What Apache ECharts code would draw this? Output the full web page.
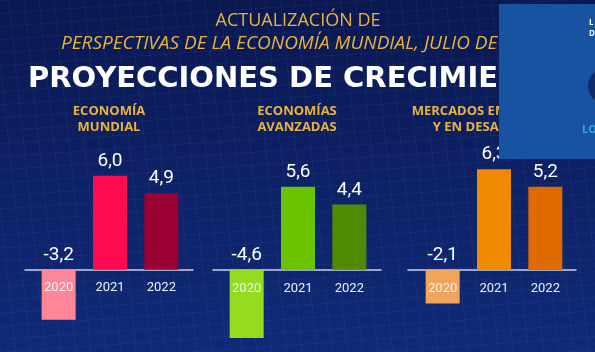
<!DOCTYPE html>
<html>
<head>
<meta charset="utf-8">
<script src="https://cdn.jsdelivr.net/npm/echarts@6/dist/echarts.min.js"></script>
<style>
  html, body { margin: 0; padding: 0; }
  body {
    width: 595px; height: 352px; overflow: hidden;
    background:
      repeating-linear-gradient(84deg, rgba(80,120,220,0.09) 0 1px, transparent 1px 15px),
      repeating-linear-gradient(176deg, rgba(80,120,220,0.09) 0 1px, transparent 1px 13px),
      linear-gradient(180deg, #0a1850 0%, #0d2063 45%, #112a78 100%);
  }
  #main { width: 595px; height: 352px; }
</style>
</head>
<body>
<div id="main"></div>
<script>
// datos (FMI, julio 2021)
const categories = ['2020', '2021', '2022']
const mundial = [-3.2, 6.0, 4.9]
const avanzadas = [-4.6, 5.6, 4.4]
const emergentes = [-2.1, 6.3, 5.2]
const panelTitles = ['ECONOMÍA\nMUNDIAL', 'ECONOMÍAS\nAVANZADAS', 'MERCADOS EMERGENTES\nY EN DESARROLLO']
const panelData = [mundial, avanzadas, emergentes]
const panelColors = [
  ['#ff8599', '#ff0a50', '#9b0032'],
  ['#95dc20', '#6cc400', '#4f8b00'],
  ['#f0a55c', '#f08a00', '#df6a00']
]

// layout of each panel (px)
const panels = [
  { barLeft: 33, lineLeft: 25, top: 160, height: 188 },
  { barLeft: 221, lineLeft: 213, top: 166, height: 178 },
  { barLeft: 417, lineLeft: 408, top: 158, height: 192 }
]
const bandWidth = 154
const lineWidth = 168
const gold = '#e9b43c'

const fmt = v => v.toFixed(1).replace('.', ',')

const grid = []
const xAxis = []
const yAxis = []
const series = []
const addGrid = g => {
  grid.push(Object.assign({ outerBoundsMode: 'none', containLabel: false }, g))
  return grid.length - 1
}

panels.forEach((p, i) => {
  const zeroY = p.top + p.height * 7 / 12
  // barras
  let g = addGrid({ left: p.barLeft, width: bandWidth, top: p.top, height: p.height })
  xAxis.push({ type: 'category', gridIndex: g, data: categories, show: false })
  yAxis.push({ type: 'value', gridIndex: g, min: -5, max: 7, show: false })
  series.push({
    type: 'bar', xAxisIndex: xAxis.length - 1, yAxisIndex: yAxis.length - 1,
    barWidth: 34,
    data: panelData[i].map((v, j) => ({ value: v, itemStyle: { color: panelColors[i][j] } })),
    label: {
      show: true, position: 'top', distance: 5,
      color: '#ffffff', fontSize: 19, fontFamily: 'Roboto',
      formatter: d => fmt(d.value)
    }
  })
  // linea base
  g = addGrid({ left: p.lineLeft, width: lineWidth, top: zeroY, height: 0 })
  xAxis.push({
    type: 'value', gridIndex: g, min: 0, max: 1,
    axisLine: { show: true, lineStyle: { color: '#c9d2ea', width: 1.5 } },
    axisTick: { show: false }, axisLabel: { show: false }, splitLine: { show: false }
  })
  yAxis.push({ type: 'value', gridIndex: g, show: false })
  // etiquetas de años
  g = addGrid({ left: p.barLeft, width: bandWidth, top: zeroY, height: 0 })
  xAxis.push({
    type: 'category', gridIndex: g, data: categories, z: 5,
    axisLine: { show: false }, axisTick: { show: false },
    axisLabel: { color: '#eef1f8', fontSize: 13, fontFamily: 'Roboto', margin: 12 }
  })
  yAxis.push({ type: 'value', gridIndex: g, show: false })
})

const panelCenters = [109, 297, 492]

const graphic = [
  { type: 'text', x: 298, y: 21, style: { text: 'ACTUALIZACIÓN DE', fill: gold, font: '18px "Open Sans"', align: 'center', verticalAlign: 'middle' } },
  { type: 'text', x: 61, y: 44, style: { text: 'PERSPECTIVAS DE LA ECONOMÍA MUNDIAL, JULIO DE 2021', fill: gold, font: 'italic 19px "Open Sans"', verticalAlign: 'middle' } },
  { type: 'text', x: 28, y: 79, style: { text: 'PROYECCIONES DE CRECIMIENTO', fill: '#ffffff', font: 'bold 29px "DejaVu Sans"', verticalAlign: 'middle' } }
]
panelTitles.forEach((t, i) => {
  graphic.push({
    type: 'text', x: panelCenters[i], y: 103,
    style: { text: t, fill: gold, font: 'bold 13px "Open Sans"', align: 'center', lineHeight: 16 }
  })
})
// recuadro superpuesto (video)
graphic.push(
  { type: 'rect', z: 100, shape: { x: 499, y: 4, width: 96, height: 155 }, style: { fill: '#1753a1' } },
  { type: 'circle', z: 101, shape: { cx: 606, cy: 86, r: 18 }, style: { fill: '#0e2c68' } },
  { type: 'text', z: 101, x: 589, y: 17, style: { text: 'L\nD', fill: '#ffffff', font: 'bold 8px "Open Sans"', lineHeight: 11 } },
  { type: 'text', z: 101, x: 582, y: 124, style: { text: 'LO', fill: '#35a3e6', font: 'bold 11px "Open Sans"' } }
)

const myChart = echarts.init(document.getElementById('main'))
myChart.setOption({
  backgroundColor: 'transparent',
  animation: false,
  grid, xAxis, yAxis, series, graphic
})
</script>
</body>
</html>
